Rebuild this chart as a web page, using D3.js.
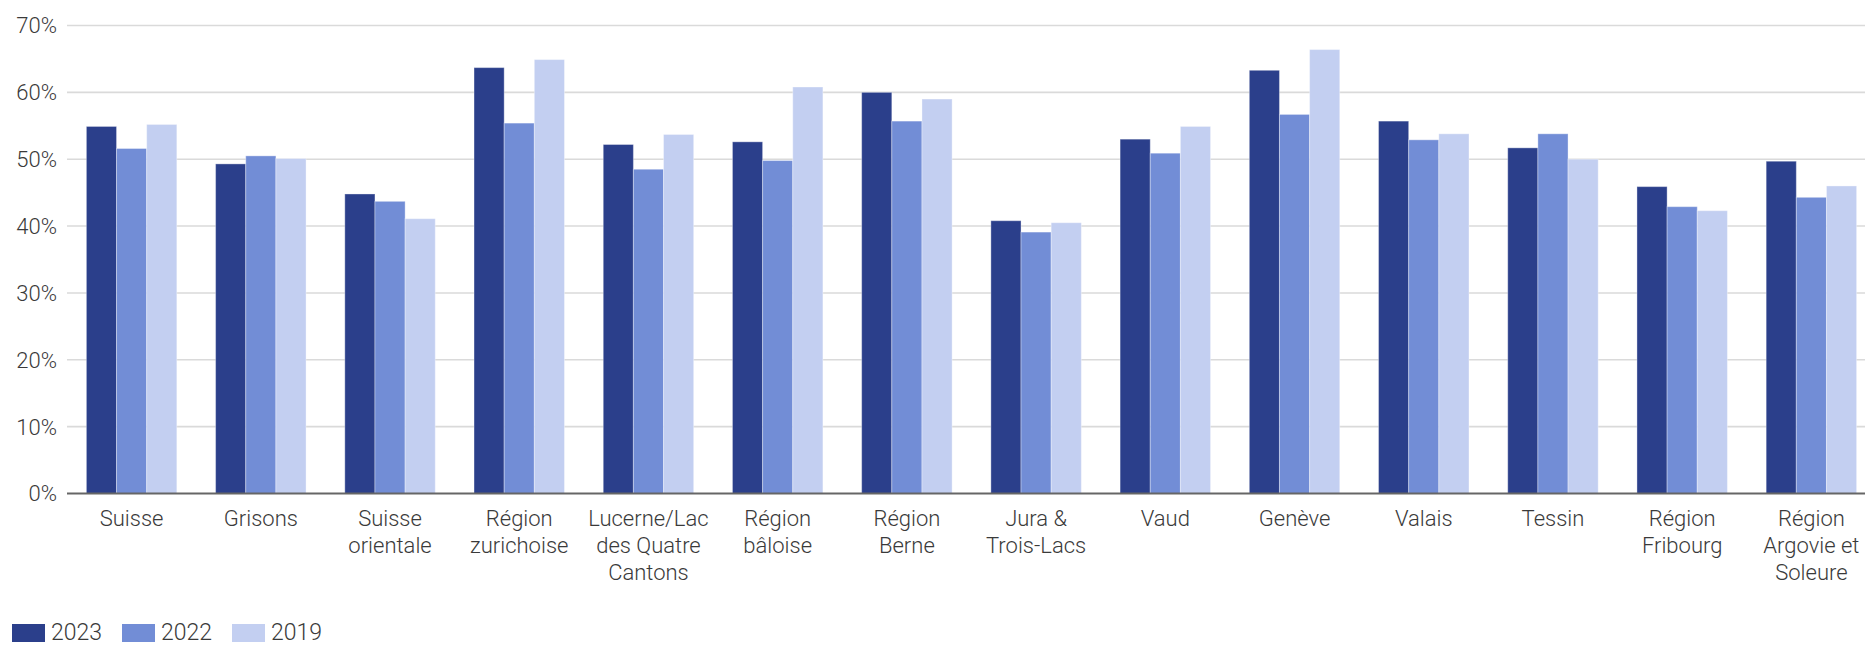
<!DOCTYPE html>
<html>
<head>
<meta charset="utf-8">
<script src="https://cdn.jsdelivr.net/npm/d3@7"></script>
<style>
  html, body { margin: 0; padding: 0; background: #fff; }
  svg { display: block; }
  text { font-family: Roboto, "Noto Sans", sans-serif; fill: #3a3a3a; font-weight: 300; }
</style>
</head>
<body>
<svg id="chart" width="1865" height="645"></svg>
<script>
const categories = [
  "Suisse", "Grisons", "Suisse orientale", "Région zurichoise",
  "Lucerne/Lac des Quatre Cantons", "Région bâloise", "Région Berne",
  "Jura & Trois-Lacs", "Vaud", "Genève", "Valais", "Tessin",
  "Région Fribourg", "Région Argovie et Soleure"
];
const categoryLines = [
  ["Suisse"], ["Grisons"], ["Suisse", "orientale"], ["Région", "zurichoise"],
  ["Lucerne/Lac", "des Quatre", "Cantons"], ["Région", "bâloise"], ["Région", "Berne"],
  ["Jura &", "Trois-Lacs"], ["Vaud"], ["Genève"], ["Valais"], ["Tessin"],
  ["Région", "Fribourg"], ["Région", "Argovie et", "Soleure"]
];
const seriesNames = ["2023", "2022", "2019"];
const values2023 = [54.9, 49.3, 44.8, 63.7, 52.2, 52.6, 60.0, 40.8, 53.0, 63.3, 55.7, 51.7, 45.9, 49.7];
const values2022 = [51.6, 50.5, 43.7, 55.4, 48.5, 49.8, 55.7, 39.1, 50.9, 56.7, 52.9, 53.8, 42.9, 44.3];
const values2019 = [55.2, 50.1, 41.1, 64.9, 53.7, 60.8, 59.0, 40.5, 54.9, 66.4, 53.8, 50.0, 42.3, 46.0];
const yTicks = [0, 10, 20, 30, 40, 50, 60, 70];
const colors = ["#2b3f8b", "#728dd6", "#c3cff1"];

const seriesValues = [values2023, values2022, values2019];
const rows = categories.map((c, i) => ({
  cat: c, lines: categoryLines[i],
  vals: seriesNames.map((s, k) => ({ key: s, value: seriesValues[k][i] }))
}));

const svg = d3.select("#chart");
const mLeft = 67, mRight = 1876, mTop = 25.5, mBottom = 493.5;

const x = d3.scaleBand().domain(categories).range([mLeft, mRight]).paddingInner(0.3).paddingOuter(0.15);
const xs = d3.scaleBand().domain(seriesNames).range([0, x.bandwidth()]).padding(0);
const y = d3.scaleLinear().domain([0, 70]).range([mBottom, mTop]);
const color = d3.scaleOrdinal().domain(seriesNames).range(colors);

// gridlines
svg.append("g").selectAll("line").data(yTicks.filter(t => t > 0)).join("line")
  .attr("x1", mLeft).attr("x2", 1865)
  .attr("y1", d => y(d)).attr("y2", d => y(d))
  .attr("stroke", "#dadada").attr("stroke-width", 1.6);

// y tick labels
svg.append("g").selectAll("text").data(yTicks).join("text")
  .attr("x", 57).attr("y", d => y(d)).attr("dy", "0.36em")
  .attr("text-anchor", "end").attr("font-size", 22)
  .text(d => d + "%");

// bars
const groups = svg.append("g").selectAll("g").data(rows).join("g")
  .attr("transform", d => `translate(${x(d.cat)},0)`);
groups.selectAll("rect").data(d => d.vals).join("rect")
  .attr("x", d => xs(d.key)).attr("width", xs.bandwidth())
  .attr("y", d => y(d.value)).attr("height", d => y(0) - y(d.value))
  .attr("fill", d => color(d.key))
  .attr("stroke", "rgba(255,255,255,0.35)").attr("stroke-width", 1);

// baseline axis
svg.append("line").attr("x1", mLeft).attr("x2", 1865)
  .attr("y1", y(0)).attr("y2", y(0))
  .attr("stroke", "#666").attr("stroke-width", 2);

// x labels
const lab = svg.append("g").selectAll("text").data(rows).join("text")
  .attr("text-anchor", "middle").attr("font-size", 22)
  .attr("x", d => x(d.cat) + x.bandwidth() / 2).attr("y", 526);
lab.selectAll("tspan").data(d => d.lines).join("tspan")
  .attr("x", function() { return d3.select(this.parentNode).attr("x"); })
  .attr("dy", (d, i) => i === 0 ? 0 : 27)
  .text(d => d);

// legend
const legendX = [12, 122, 232];
const leg = svg.append("g").selectAll("g").data(seriesNames).join("g")
  .attr("transform", (d, i) => `translate(${legendX[i]},0)`);
leg.append("rect").attr("x", 0).attr("y", 624).attr("width", 33).attr("height", 18)
  .attr("fill", d => color(d));
leg.append("text").attr("x", 39).attr("y", 640).attr("font-size", 23).text(d => d);
</script>
</body>
</html>
